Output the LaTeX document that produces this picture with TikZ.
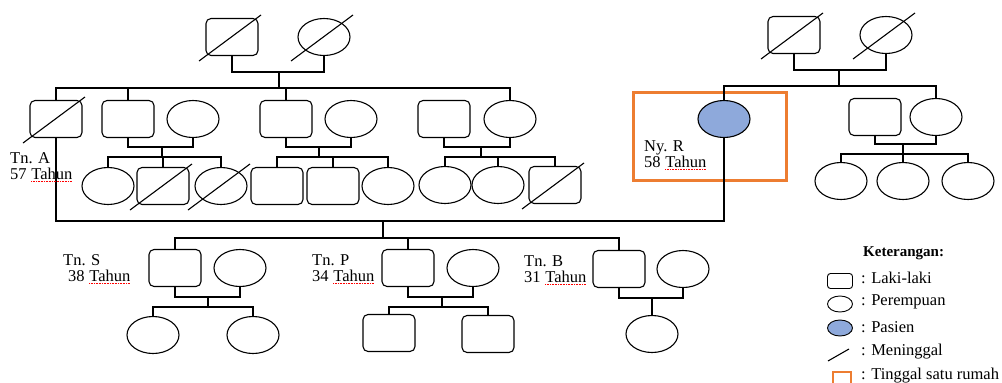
\documentclass[tikz,border=0pt]{standalone}
\usepackage{fontspec}
\setmainfont{Liberation Serif}
\usetikzlibrary{shapes.geometric}
\definecolor{patientblue}{RGB}{142,169,219}
\definecolor{homeorange}{RGB}{237,125,49}
% red spelling underline under a word
\newcommand{\spell}[1]{\tikz[baseline=(w.base)]{\node[inner sep=0pt] (w) {#1};
  \draw[red, densely dotted, line width=0.6pt] ([yshift=-1.8pt]w.base west) -- ([yshift=-1.8pt]w.base east);}}
% slash through a deceased person
\newcommand{\dead}[1]{\draw[slash] ([shift={(-33,24)}]#1.center) -- ([shift={(29,-22)}]#1.center);}

\begin{document}
\begin{tikzpicture}[x=1pt, y=-1pt,
    male/.style={draw, rounded corners=5pt, line width=1.1pt, minimum width=52pt, minimum height=37pt, inner sep=0pt},
    female/.style={draw, ellipse, line width=1.1pt, minimum width=52pt, minimum height=37pt, inner sep=0pt},
    patient/.style={female, fill=patientblue},
    link/.style={line width=1.6pt},
    slash/.style={line width=1.1pt},
    home/.style={draw=homeorange, line width=3pt},
    lbl/.style={font=\fontsize{16.5}{16}\selectfont, align=left, anchor=west, inner sep=0pt},
    key/.style={font=\fontsize{16.5}{16}\selectfont, anchor=west, inner sep=0pt}]
  \useasboundingbox (0,0) rectangle (1002,383);

  % draws the house of the patient
  \draw[home] (633,92) rectangle (786,180);

  % draws the grandparents
  \node[male] (gpa1) at (232,37) {};
  \node[female] (gma1) at (324,37) {};
  \node[male] (gpa2) at (794,35) {};
  \node[female] (gma2) at (886,35) {};
  \coordinate (c0) at (279,72);
  \coordinate (s0) at (279,88);
  \coordinate (c5) at (839,70);
  \coordinate (s5) at (839,86);

  % draws the second generation
  \node[male] (tnA) at (56,119) {};
  \node[male] (u2) at (128,119) {};
  \node[female] (w2) at (193,119) {};
  \node[male] (u3) at (286,119) {};
  \node[female] (w3) at (351,119) {};
  \node[male] (u4) at (444,119) {};
  \node[female] (w4) at (510,119) {};
  \node[patient] (nyR) at (724,119) {};
  \node[male] (u6) at (875,117) {};
  \node[female] (w6) at (936,117) {};
  \foreach \f/\x in {2/162,3/319,4/481} {
    \coordinate (c\f) at (\x,147);
    \coordinate (s\f) at (\x,157);
  }
  \coordinate (c6) at (903,144);
  \coordinate (s6) at (903,154);

  % draws the cousins
  \foreach \x/\s [count = \i] in {108/female,163/male,221/female}
    \node[\s] (k2\i) at (\x,186) {};
  \foreach \x/\s [count = \i] in {277/male,333/male,388/female}
    \node[\s] (k3\i) at (\x,186) {};
  \foreach \x/\s [count = \i] in {445/female,498/female,555/male}
    \node[\s] (k4\i) at (\x,185) {};
  \foreach \x [count = \i] in {841,903,968}
    \node[female] (k6\i) at (\x,181) {};

  % draws the children of the patient
  \coordinate (m) at (383,221);
  \coordinate (s7) at (383,238);
  \node[male] (u8) at (175,268) {};
  \node[female] (w8) at (240,268) {};
  \node[male] (u9) at (408,268) {};
  \node[female] (w9) at (473,268) {};
  \node[male] (u10) at (619,269) {};
  \node[female] (w10) at (683,269) {};
  \coordinate (c8) at (208,297);
  \coordinate (s8) at (208,307);
  \coordinate (c9) at (442,297);
  \coordinate (s9) at (442,307);
  \coordinate (c10) at (652,298);
  \node[female] (k81) at (153,335) {};
  \node[female] (k82) at (253,335) {};
  \node[male] (k91) at (389,333) {};
  \node[male] (k92) at (488,334) {};
  \node[female] (k101) at (652,334) {};

  % draws the lines
  \draw[link] (gpa1.south) |- (c0) -| (gma1.south);
  \draw[link] (c0) -- (s0);
  \draw[link] (tnA.north) |- (s0) -| (w4.north);
  \foreach \n in {u2,u3}
    \draw[link] (\n.north) -- (\n.north |- s0);
  \draw[link] (gpa2.south) |- (c5) -| (gma2.south);
  \draw[link] (c5) -- (s5);
  \draw[link] (nyR.north) |- (s5) -| (w6.north);
  \foreach \f in {2,3,4,6} {
    \draw[link] (u\f.south) |- (c\f) -| (w\f.south);
    \draw[link] (c\f) -- (s\f);
    \draw[link] (k\f1.north) |- (s\f) -| (k\f3.north);
    \draw[link] (k\f2.north) -- (k\f2.north |- s\f);
  }
  \draw[link] (tnA.south) |- (m) -| (nyR.south);
  \draw[link] (m) -- (s7);
  \draw[link] (u8.north) |- (s7) -| (u10.north);
  \draw[link] (u9.north) -- (u9.north |- s7);
  \foreach \f in {8,9} {
    \draw[link] (u\f.south) |- (c\f) -| (w\f.south);
    \draw[link] (c\f) -- (s\f);
    \draw[link] (k\f1.north) |- (s\f) -| (k\f2.north);
  }
  \draw[link] (u10.south) |- (c10) -| (w10.south);
  \draw[link] (c10) -- (k101.north);

  % draws the deceased
  \foreach \n in {gpa1,gma1,gpa2,gma2,tnA,k22,k23,k43} {
    \dead{\n}
  }

  % draws the names
  \node[lbl] (lblA) at (10,167) {Tn. A\\57 \spell{Tahun}};
  \node[lbl] (lblR) at (644,155) {Ny. R\\58 \spell{Tahun}};
  \node[lbl] (lblS) at (63,269) {Tn. S\\\hspace*{5pt}38 \spell{Tahun}};
  \node[lbl] (lblP) at (312,269) {Tn. P\\34 \spell{Tahun}};
  \node[lbl] (lblB) at (524,270) {Tn. B\\31 \spell{Tahun}};

  % draws the legend
  \node[font=\bfseries\fontsize{15}{16}\selectfont, anchor=west, inner sep=0pt] (keyT) at (863,253) {Keterangan:};
  \node[male, minimum width=25pt, minimum height=15pt, rounded corners=3pt, line width=0.9pt] (keyM) at (840,281) {};
  \node[female, minimum width=25pt, minimum height=16pt, line width=0.9pt] (keyF) at (840,304) {};
  \node[patient, minimum width=25pt, minimum height=16pt, line width=0.9pt] (keyP) at (840,328) {};
  \coordinate (keyD1) at (828,361);
  \coordinate (keyD2) at (849,349);
  \draw[slash] (keyD1) -- (keyD2);
  \draw[home, line width=1.5pt] (833,372) rectangle (851,392);
  \node[key] (txtM) at (861,278) {: Laki-laki};
  \node[key] (txtF) at (861,302) {: Perempuan};
  \node[key] (txtP) at (861,327) {: Pasien};
  \node[key] (txtD) at (861,352) {: Meninggal};
  \node[key] (txtH) at (861,376) {: Tinggal satu rumah};
\end{tikzpicture}
\end{document}
